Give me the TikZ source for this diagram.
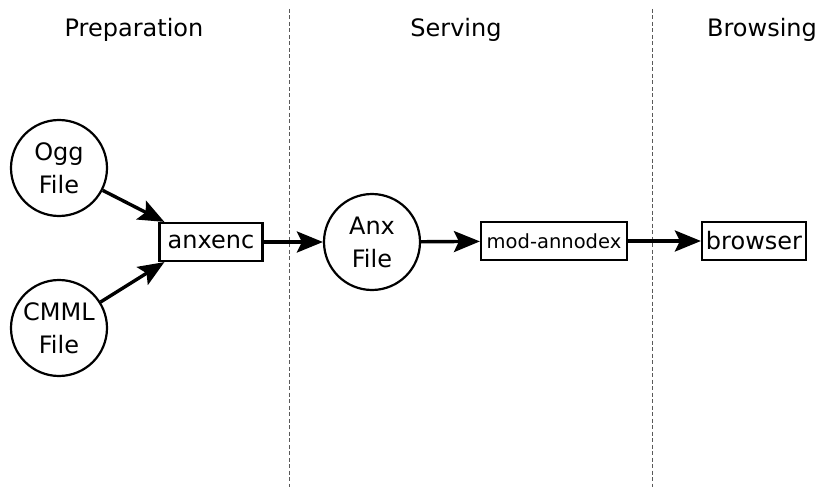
\documentclass[tikz,border=0pt]{standalone}
\usepackage{fontspec}
\setmainfont{DejaVu Sans}
\usetikzlibrary{arrows.meta}

\begin{document}
\begin{tikzpicture}[x=1pt,y=-1pt,
	every node/.style={font=\fontsize{24}{33}\selectfont},
	file/.style={draw,circle,line width=2.2pt,minimum size=96pt,inner sep=0pt,align=center},
	tool/.style={draw,rectangle,line width=2.2pt,inner sep=2pt,minimum height=38pt},
	flow/.style={line width=3.4pt,-{Stealth[length=26pt,width=21pt,inset=5pt]}},
	phase/.style={gray!70!black,line width=1pt,dash pattern=on 4pt off 2.5pt}]
	\useasboundingbox (0,0) rectangle (820,487);

	% phases
	\node (prep) at (134,30) {Preparation};
	\node (serv) at (456,30) {Serving};
	\node (brow) at (762,30) {Browsing};
	\draw[phase] (289,9) -- (289,487);
	\draw[phase] (652,9) -- (652,487);

	% nodes
	\node[file] (ogg) at (59,168) {Ogg\\File};
	\node[file] (cmml) at (59,328) {CMML\\File};
	\node[tool,minimum width=103pt] (anxenc) at (211,242) {anxenc};
	\node[file] (anx) at (372,242) {Anx\\File};
	\node[tool,minimum width=146pt,font=\fontsize{19.5}{24}\selectfont] (annodex) at (554,241) {mod-annodex};
	\node[tool,minimum width=104pt] (browser) at (754,241) {browser};

	% arrows
	\draw[flow] (ogg) -- ([xshift=6pt]anxenc.north west);
	\draw[flow] (cmml) -- ([xshift=6pt]anxenc.south west);
	\draw[flow] (anxenc) -- (anx);
	\draw[flow] (anx) -- (annodex);
	\draw[flow] (annodex) -- (browser);
\end{tikzpicture}
\end{document}
